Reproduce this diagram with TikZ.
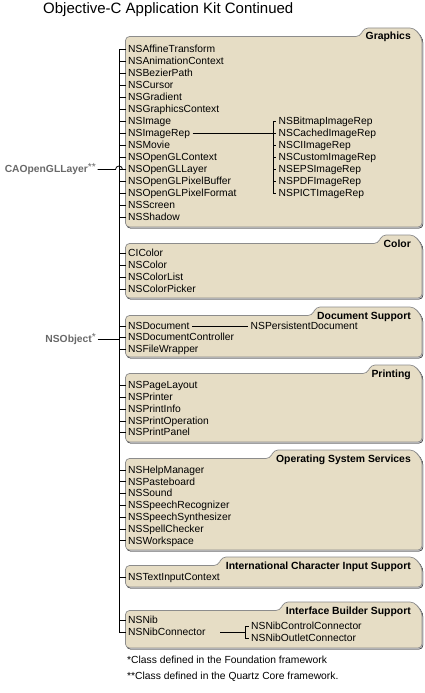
\documentclass[tikz,border=0pt]{standalone}
\usepackage{fontspec}
\setmainfont{Liberation Sans}
\usepackage{tikz}
\definecolor{folderfill}{RGB}{230,221,197}
\definecolor{folderline}{RGB}{140,140,140}
\definecolor{shadegray}{RGB}{200,200,206}
\definecolor{rootgray}{RGB}{105,105,105}
\newcommand{\folder}[5]{%
  \draw[foldershade] (126.5,#3+1.2) -- (126.5,#2+9.5) -- (#4+1,#2+9.5) -- (#4+5,#2+1) -- (415,#2+1) -- (423,#2+11) -- (423,#3+1.2) -- cycle;
  \draw[folder] (125.5,#3) -- (125.5,#2+8.5) -- (#4,#2+8.5) -- (#4+4,#2) -- (414,#2) -- (422,#2+10) -- (422,#3) -- cycle;
  \node[tabtext] (#1) at (411,#2+12) {#5};}
\newcommand{\stars}[1]{\raisebox{2pt}{\mdseries #1}}

\begin{document}
\begin{tikzpicture}[x=1pt,y=-1pt,
		folder/.style={draw=folderline,fill=folderfill,line width=0.7pt,rounded corners=4pt},
		foldershade/.style={fill=shadegray,rounded corners=4pt},
		tabtext/.style={anchor=base east,inner sep=0pt,font=\fontsize{10.4}{12}\selectfont\bfseries},
		cls/.style={anchor=west,inner xsep=2.5pt,inner ysep=0pt,text height=7.5pt,text depth=1pt,font=\fontsize{10.3}{12}\selectfont},
		root/.style={cls,anchor=east,inner xsep=1.5pt,text=rootgray,font=\fontsize{10.3}{12}\selectfont\bfseries},
		link/.style={draw=black,line width=0.8pt}]
		\useasboundingbox (0,0) rectangle (425,693);

		\node[anchor=base west,inner sep=0pt,font=\fontsize{15}{18}\selectfont] (title) at (43,13.5) {Objective-C Application Kit Continued};

		\folder{hgfx}{28}{227}{360}{Graphics}
		\folder{hcol}{235}{298}{378}{Color}
		\folder{hdoc}{307}{357}{312}{Document Support}
		\folder{hprt}{365}{442}{367}{Printing}
		\folder{hoss}{450}{550}{270}{Operating System Services}
		\folder{hics}{557}{587}{218}{International Character Input Support}
		\folder{hibs}{602}{648}{280}{Interface Builder Support}

		\coordinate (trunk) at (119,0);
		\coordinate (repx) at (273,0);
		\coordinate (nibx) at (245,0);

		\foreach \n [count=\i] in {NSAffineTransform,NSAnimationContext,NSBezierPath,NSCursor,NSGradient,NSGraphicsContext,NSImage,NSImageRep,NSMovie,NSOpenGLContext,NSOpenGLLayer,NSOpenGLPixelBuffer,NSOpenGLPixelFormat,NSScreen,NSShadow} {
			\node[cls] (gfx\i) at (125.5,37.5+12*\i) {\n};
			\draw[link] (trunk |- gfx\i.west) -- (gfx\i.west);
		}
		\foreach \n [count=\i] in {NSBitmapImageRep,NSCachedImageRep,NSCIImageRep,NSCustomImageRep,NSEPSImageRep,NSPDFImageRep,NSPICTImageRep} {
			\node[cls] (rep\i) at (276,109.5+12*\i) {\n};
			\draw[link] (repx |- rep\i.west) -- (rep\i.west);
		}
		\draw[link] (repx |- rep1.west) -- (repx |- rep7.west);
		\draw[link] (gfx8.east) -- (rep2.west);

		\foreach \n [count=\i] in {CIColor,NSColor,NSColorList,NSColorPicker} {
			\node[cls] (col\i) at (125.5,241.7+11.8*\i) {\n};
			\draw[link] (trunk |- col\i.west) -- (col\i.west);
		}

		\foreach \n [count=\i] in {NSDocument,NSDocumentController,NSFileWrapper} {
			\node[cls] (doc\i) at (125.5,314.4+11.6*\i) {\n};
			\draw[link] (trunk |- doc\i.west) -- (doc\i.west);
		}
		\node[cls] (persdoc) at (doc1.west -| 248,0) {NSPersistentDocument};
		\draw[link] (doc1.east) -- (persdoc.west);

		\foreach \n [count=\i] in {NSPageLayout,NSPrinter,NSPrintInfo,NSPrintOperation,NSPrintPanel} {
			\node[cls] (prt\i) at (125.5,373.7+11.8*\i) {\n};
			\draw[link] (trunk |- prt\i.west) -- (prt\i.west);
		}

		\foreach \n [count=\i] in {NSHelpManager,NSPasteboard,NSSound,NSSpeechRecognizer,NSSpeechSynthesizer,NSSpellChecker,NSWorkspace} {
			\node[cls] (oss\i) at (125.5,458.2+11.8*\i) {\n};
			\draw[link] (trunk |- oss\i.west) -- (oss\i.west);
		}

		\node[cls] (ics1) at (125.5,577) {NSTextInputContext};
		\draw[link] (trunk |- ics1.west) -- (ics1.west);

		\foreach \n [count=\i] in {NSNib,NSNibConnector} {
			\node[cls] (ibs\i) at (125.5,608.7+11.8*\i) {\n};
			\draw[link] (trunk |- ibs\i.west) -- (ibs\i.west);
		}
		\node[cls] (nibctl) at (248.5,626.5) {NSNibControlConnector};
		\node[cls] (nibout) at (248.5,638.3) {NSNibOutletConnector};
		\draw[link] ([xshift=12pt]ibs2.east) -- (nibx |- ibs2.east);
		\draw[link] (nibctl.west) -- (nibx |- nibctl.west) -- (nibx |- nibout.west) -- (nibout.west);

		\draw[link] (trunk |- gfx1.west) -- (trunk |- ibs2.west);

		\node[root] (nsobj) at (97.5,339.5) {NSObject\stars{*}};
		\draw[link] (nsobj.east) -- (trunk |- nsobj.east);
		\node[root] (caogl) at (97.5,169.5) {CAOpenGLLayer\stars{**}};
		\draw[link] (caogl.east) -- ([xshift=-3.5pt]trunk |- caogl.east) arc[start angle=180,delta angle=-180,radius=3.5pt] -- (gfx11.west);

		\node[cls] (note1) at (124.5,660) {*Class defined in the Foundation framework};
		\node[cls] (note2) at (124.5,676.7) {**Class defined in the Quartz Core framework.};

	\end{tikzpicture}
\end{document}
